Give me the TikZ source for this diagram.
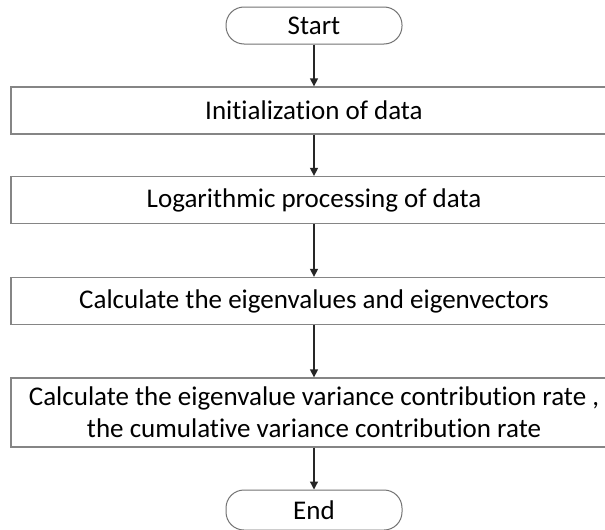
\documentclass[tikz,border=0pt]{standalone}
\usepackage{fontspec}
\setmainfont{Carlito}[Ligatures={NoCommon}]
\usetikzlibrary{arrows.meta}
\begin{document}
\begin{tikzpicture}[x=1pt,y=1pt,
  procbox/.style={draw=black!48, line width=1.3pt, minimum width=606pt, inner sep=0pt, align=center, font=\fontsize{27}{32}\selectfont, text=black},
  term/.style={draw=black!55, line width=1pt, rounded corners=18pt, minimum width=176pt, inner sep=0pt, font=\fontsize{27}{32}\selectfont, text=black},
  flow/.style={draw=black!85, line width=1.3pt, -{Triangle[length=8pt,width=8pt]}}]
\useasboundingbox (0,0) rectangle (605,-530);
\fill[white] (0,0) rectangle (605,-530);
\node[term, minimum height=37pt] (start) at (314,-25.5) {Start};
\node[procbox, minimum height=47pt] (b1) at (314,-110.5) {Initialization of data};
\node[procbox, minimum height=47pt] (b2) at (314,-200) {Logarithmic processing of data};
\node[procbox, minimum height=47pt] (b3) at (314,-301) {Calculate the eigenvalues and eigenvectors};
\node[procbox, minimum height=69pt] (b4) at (314,-412.5) {Calculate the eigenvalue variance contribution rate ,\\the cumulative variance contribution rate};
\node[term, minimum height=40pt] (end) at (314,-510) {End};
\draw[flow] (start) -- (b1);
\draw[flow] (b1) -- (b2);
\draw[flow] (b2) -- (b3);
\draw[flow] (b3) -- (b4);
\draw[flow] (b4) -- (end);
\end{tikzpicture}
\end{document}
